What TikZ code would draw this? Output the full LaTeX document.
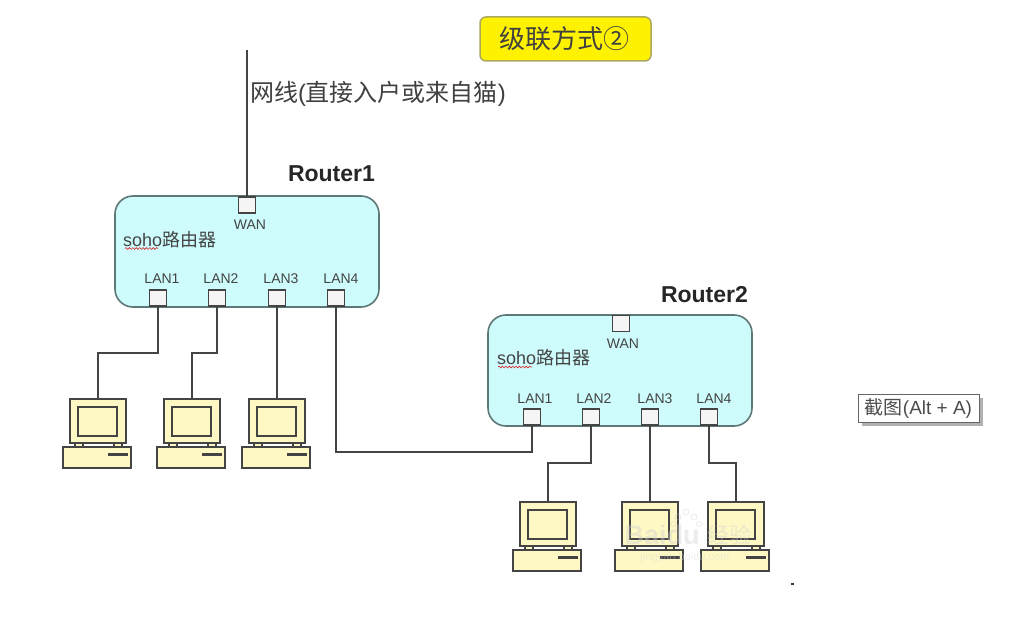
\documentclass[tikz,border=0pt]{standalone}
\usepackage{fontspec}
\setmainfont{Liberation Sans}
\newfontfamily\cjk{Noto Sans CJK SC}
\usetikzlibrary{decorations.pathmorphing}
\definecolor{linec}{HTML}{444444}
\definecolor{routerfill}{HTML}{CEFCFC}
\definecolor{routerline}{HTML}{5E7878}
\definecolor{pcfill}{HTML}{FDF8C4}
\newcommand{\fs}[1]{\fontsize{#1}{#1}\selectfont}
\tikzset{
  x=1pt,y=-1pt,
  every node/.style={inner sep=0pt,outer sep=0pt},
  router/.style={draw=routerline,fill=routerfill,line width=1.6pt,rounded corners=18pt,minimum width=264pt,minimum height=111pt},
  port/.style={draw=linec,fill=white!96!black,line width=1.4pt,minimum width=17pt,minimum height=16pt},
  portlabel/.style={text=linec,font=\fs{14}},
  routername/.style={text=black!85,font=\fs{23}\bfseries},
  sohotext/.style={text=linec,font=\fs{18}},
  wire/.style={draw=linec,line width=1.5pt},
  wavy/.style={draw=red!70!gray,line width=0.6pt,decorate,decoration={snake,amplitude=0.9pt,segment length=3.4pt}},
  pcpart/.style={draw=linec,fill=pcfill,line width=1.2pt},
  pc/.pic={
    \draw[pcpart] (7,44) rectangle (15,49);
    \draw[pcpart] (46,44) rectangle (54,49);
    \node[pcpart,anchor=north west,minimum width=56pt,minimum height=44pt] (-mon) at (2,0) {};
    \node[pcpart,anchor=north west,minimum width=39pt,minimum height=29pt] (-scr) at (10,8) {};
    \node[pcpart,anchor=north west,minimum width=68pt,minimum height=21pt] (-base) at (-5,48) {};
    \node[fill=linec,anchor=north west,minimum width=20pt,minimum height=3pt] (-slot) at (40,53.5) {};
  }
}
\begin{document}
\begin{tikzpicture}
\useasboundingbox (0,0) rectangle (1028,642);
\fill[white] (0,0) rectangle (1028,642);

% title
\node[draw=black!30!yellow!65!gray,fill=yellow,line width=1.5pt,rounded corners=6pt,minimum width=171pt,minimum height=44pt] (title) at (565.5,39) {};
\node[text=black!75,font=\fs{26}\cjk] (titletext) at (564,39) {级联方式②};

% routers
\node[router] (r1) at (247,251.5) {};
\node[router] (r2) at (620,370.5) {};

% router 1 ports
\node[port] (r1w) at (247,205) {};
\node[port] (r1l1) at (158,298) {};
\node[port] (r1l2) at (217,298) {};
\node[port] (r1l3) at (277,298) {};
\node[port] (r1l4) at (336,298) {};
% router 2 ports
\node[port] (r2w) at (621,323.5) {};
\node[port] (r2l1) at (532,417) {};
\node[port] (r2l2) at (591,417) {};
\node[port] (r2l3) at (650,417) {};
\node[port] (r2l4) at (709,417) {};

% labels
\node[text=black!75,font=\fs{24},anchor=west] (cable) at (250,94) {\cjk 网线\rmfamily(\cjk 直接入户或来自猫\rmfamily)};
\node[routername,anchor=west] (n1) at (288,174) {Router1};
\node[routername,anchor=west] (n2) at (661,295) {Router2};
\node[sohotext,anchor=west] (s1) at (123,240) {soho{\cjk 路由器}};
\node[sohotext,anchor=west] (s2) at (497,358) {soho{\cjk 路由器}};
\coordinate (w1a) at (125,248.5);
\coordinate (w1b) at (158,248.5);
\coordinate (w2a) at (498,367);
\coordinate (w2b) at (532,367);
\draw[wavy] (w1a) -- (w1b);
\draw[wavy] (w2a) -- (w2b);
\node[portlabel] (r1wl) at (250,224.5) {WAN};
\node[portlabel] (r1a) at (162,279) {LAN1};
\node[portlabel] (r1b) at (221,279) {LAN2};
\node[portlabel] (r1c) at (281,279) {LAN3};
\node[portlabel] (r1d) at (341,279) {LAN4};
\node[portlabel] (r2wl) at (623,343.5) {WAN};
\node[portlabel] (r2a) at (535,398.5) {LAN1};
\node[portlabel] (r2b) at (594,398.5) {LAN2};
\node[portlabel] (r2c) at (655,398.5) {LAN3};
\node[portlabel] (r2d) at (714,398.5) {LAN4};

% computers
\pic (p1) at (68,399) {pc};
\pic (p2) at (162,399) {pc};
\pic (p3) at (247,399) {pc};
\pic (p4) at (518,502) {pc};
\pic (p5) at (620,502) {pc};
\pic (p6) at (706,502) {pc};

% connectors
\coordinate (top) at (247,50);
\coordinate (b1) at (158,353);
\coordinate (b2) at (217,353);
\coordinate (j1) at (336,452);
\coordinate (b5) at (591,463);
\coordinate (b6) at (709,463);
\draw[wire] (top) -- (r1w.north);
\draw[wire] (r1l1.south) |- (b1) -| (p1-mon.north);
\draw[wire] (r1l2.south) |- (b2) -| (p2-mon.north);
\draw[wire] (r1l3.south) -- (p3-mon.north);
\draw[wire] (r1l4.south) |- (j1) -| (r2l1.south);
\draw[wire] (r2l2.south) |- (b5) -| (p4-mon.north);
\draw[wire] (r2l3.south) -- (p5-mon.north);
\draw[wire] (r2l4.south) |- (b6) -| (p6-mon.north);

% watermark
\begin{scope}[opacity=0.4]
  \node[text=white!82!black,font=\fs{27}\bfseries] (wm1) at (662,535) {Baidu};
  \node[text=white!82!black,font=\fs{22}\cjk] (wm2) at (729,535) {经验};
  \node[text=white!85!black,font=\fs{11}] (wm3) at (685,558) {jingyan.baidu.com};
  \foreach \ex/\ey/\er in {678/517/3,686/512/3,694/517/3,673/524/2.5,699/524/2.5}
    \draw[white!80!black,line width=0.8pt] (\ex,\ey) circle[radius=\er];
\end{scope}

% tooltip
\fill[black!30] (862,398) rectangle (983,426);
\node[draw=black!60,fill=white,line width=1pt,minimum width=121pt,minimum height=28pt] (tip) at (918.5,408) {};
\node[text=black!70,font=\fs{19}] (tiptext) at (918.5,408) {{\cjk 截图}(Alt + A)};

% stray dot
\fill[black!80] (791,583) rectangle (794,585);
\end{tikzpicture}
\end{document}
